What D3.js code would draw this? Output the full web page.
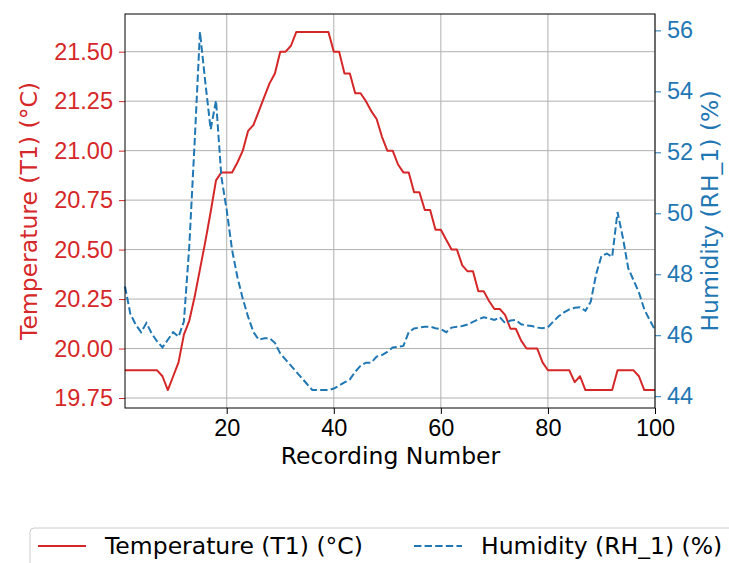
<!DOCTYPE html>
<html>
<head>
<meta charset="utf-8">
<script src="https://cdn.jsdelivr.net/npm/d3@7"></script>
<style>
  body { margin: 0; background: #fff; }
  svg { display: block; font-family: "DejaVu Sans", sans-serif; }
</style>
</head>
<body>
<svg id="chart" width="729" height="563"></svg>
<script>
// recording numbers 1..100
const recordings = d3.range(1, 101);

const temperature = [
  19.89, 19.89, 19.89, 19.89, 19.89, 19.89, 19.89, 19.86, 19.79, 19.86,
  19.93, 20.07, 20.14, 20.26, 20.40, 20.54, 20.69, 20.85, 20.89, 20.89,
  20.89, 20.94, 21.00, 21.10, 21.13, 21.20, 21.27, 21.34, 21.39, 21.50,
  21.50, 21.53, 21.60, 21.60, 21.60, 21.60, 21.60, 21.60, 21.60, 21.50,
  21.50, 21.39, 21.39, 21.29, 21.29, 21.25, 21.20, 21.16, 21.07, 21.00,
  21.00, 20.93, 20.89, 20.89, 20.79, 20.79, 20.70, 20.70, 20.60, 20.60,
  20.55, 20.50, 20.50, 20.42, 20.39, 20.39, 20.29, 20.29, 20.24, 20.20,
  20.20, 20.17, 20.10, 20.10, 20.04, 20.00, 20.00, 20.00, 19.93, 19.89,
  19.89, 19.89, 19.89, 19.89, 19.83, 19.86, 19.79, 19.79, 19.79, 19.79,
  19.79, 19.79, 19.89, 19.89, 19.89, 19.89, 19.86, 19.79, 19.79, 19.79
];

const humidity = [
  47.60, 46.70, 46.35, 46.10, 46.40, 46.05, 45.80, 45.60, 45.85, 46.10,
  45.95, 46.45, 48.90, 52.30, 55.95, 54.30, 52.75, 53.70, 51.20, 50.10,
  48.80, 47.90, 47.20, 46.60, 46.10, 45.85, 45.90, 45.90, 45.75, 45.40,
  45.20, 45.00, 44.80, 44.60, 44.40, 44.20, 44.20, 44.20, 44.20, 44.25,
  44.35, 44.45, 44.55, 44.80, 45.00, 45.10, 45.10, 45.30, 45.35, 45.45,
  45.60, 45.62, 45.65, 46.10, 46.22, 46.25, 46.28, 46.28, 46.23, 46.20,
  46.10, 46.25, 46.28, 46.30, 46.35, 46.44, 46.52, 46.59, 46.55, 46.50,
  46.59, 46.40, 46.48, 46.50, 46.36, 46.32, 46.30, 46.25, 46.23, 46.26,
  46.45, 46.62, 46.75, 46.85, 46.90, 46.92, 46.80, 47.10, 48.00, 48.60,
  48.68, 48.57, 50.04, 49.20, 48.20, 47.80, 47.40, 46.85, 46.50, 46.17
];

const xTicks = [20, 40, 60, 80, 100];
const tempTicks = [19.75, 20.00, 20.25, 20.50, 20.75, 21.00, 21.25, 21.50];
const humTicks = [44, 46, 48, 50, 52, 54, 56];

const tempColor = "#d62728", humColor = "#1f77b4";

const svg = d3.select("#chart");
const margin = { top: 14, right: 74, bottom: 155, left: 125 };
const width = +svg.attr("width") - margin.left - margin.right,
      height = +svg.attr("height") - margin.top - margin.bottom;

// matplotlib-style 5% padding on the y ranges
function padded(values) {
  const [lo, hi] = d3.extent(values);
  const pad = (hi - lo) * 0.05;
  return [lo - pad, hi + pad];
}

const x = d3.scaleLinear().domain([1, 100]).range([0, width]);
const yT = d3.scaleLinear().domain(padded(temperature)).range([height, 0]);
const yH = d3.scaleLinear().domain(padded(humidity)).range([height, 0]);

const g = svg.append("g").attr("transform", `translate(${margin.left},${margin.top})`);

// grid
g.append("g").selectAll("line").data(xTicks).enter().append("line")
  .attr("x1", d => x(d)).attr("x2", d => x(d)).attr("y1", 0).attr("y2", height)
  .attr("stroke", "#b0b0b0").attr("stroke-width", 1);
g.append("g").selectAll("line").data(tempTicks).enter().append("line")
  .attr("x1", 0).attr("x2", width).attr("y1", d => yT(d)).attr("y2", d => yT(d))
  .attr("stroke", "#b0b0b0").attr("stroke-width", 1);

// lines
const tempLine = d3.line().x((d, i) => x(recordings[i])).y(d => yT(d));
const humLine = d3.line().x((d, i) => x(recordings[i])).y(d => yH(d));

g.append("path").datum(temperature)
  .attr("d", tempLine).attr("fill", "none")
  .attr("stroke", tempColor).attr("stroke-width", 2).attr("stroke-linejoin", "round");

g.append("path").datum(humidity)
  .attr("d", humLine).attr("fill", "none")
  .attr("stroke", humColor).attr("stroke-width", 2)
  .attr("stroke-dasharray", "7.4,3.2");

// axes
const fontSize = "23.5px";

const xAxis = g.append("g").attr("transform", `translate(0,${height})`)
  .call(d3.axisBottom(x).tickValues(xTicks).tickSize(6).tickPadding(5));
xAxis.selectAll("text").attr("font-size", fontSize).attr("fill", "#000");

const yLeft = g.append("g")
  .call(d3.axisLeft(yT).tickValues(tempTicks).tickFormat(d3.format(".2f")).tickSize(6).tickPadding(6));
yLeft.selectAll("text").attr("font-size", fontSize).attr("fill", tempColor);
yLeft.selectAll(".tick line").attr("stroke", tempColor);

const yRight = g.append("g").attr("transform", `translate(${width},0)`)
  .call(d3.axisRight(yH).tickValues(humTicks).tickSize(6).tickPadding(6));
yRight.selectAll("text").attr("font-size", fontSize).attr("fill", humColor);
yRight.selectAll(".tick line").attr("stroke", humColor);

svg.selectAll(".domain").remove();
xAxis.selectAll(".tick line").attr("stroke", "#000");

// frame
g.append("rect").attr("width", width).attr("height", height)
  .attr("fill", "none").attr("stroke", "#000").attr("stroke-width", 1);

// axis labels
svg.append("text")
  .attr("x", margin.left + width / 2 + 0.5).attr("y", 464)
  .attr("text-anchor", "middle").attr("font-size", fontSize)
  .text("Recording Number");

svg.append("text")
  .attr("transform", `translate(37,${margin.top + height / 2}) rotate(-90)`)
  .attr("text-anchor", "middle").attr("font-size", fontSize).attr("fill", tempColor)
  .text("Temperature (T1) (°C)");

svg.append("text")
  .attr("transform", `translate(718,${margin.top + height / 2}) rotate(-90)`)
  .attr("text-anchor", "middle").attr("font-size", fontSize).attr("fill", humColor)
  .text("Humidity (RH_1) (%)");

// legend
const legend = svg.append("g");
legend.append("rect")
  .attr("x", 30).attr("y", 528).attr("width", 760).attr("height", 60).attr("rx", 4)
  .attr("fill", "#fff").attr("fill-opacity", 0.8)
  .attr("stroke", "#cccccc").attr("stroke-width", 1);

const legendItems = [
  { label: "Temperature (T1) (°C)", color: tempColor, dash: null, x: 38 },
  { label: "Humidity (RH_1) (%)", color: humColor, dash: "7.4,3.2", x: 414 }
];
legendItems.forEach(item => {
  legend.append("line")
    .attr("x1", item.x).attr("x2", item.x + 48).attr("y1", 546).attr("y2", 546)
    .attr("stroke", item.color).attr("stroke-width", 2)
    .attr("stroke-dasharray", item.dash);
  legend.append("text")
    .attr("x", item.x + 67).attr("y", 554)
    .attr("font-size", fontSize).attr("fill", "#000")
    .text(item.label);
});
</script>
</body>
</html>
